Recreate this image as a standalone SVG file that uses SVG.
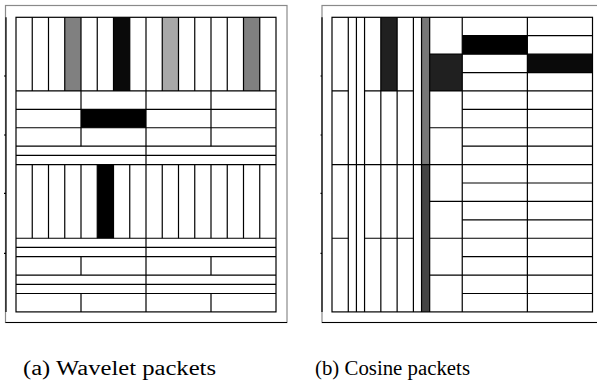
<svg xmlns="http://www.w3.org/2000/svg" width="597" height="391" viewBox="0 0 597 391">
<style>
.frame{fill:none;stroke:#8a8a8a;stroke-width:1.2}
.axis{fill:none;stroke:#000;stroke-width:1.2}
.grid{fill:none;stroke:#000;stroke-width:1.2}
.cap{font-family:"Liberation Serif","DejaVu Serif",serif;font-size:20.5px;fill:#000}
</style>
<rect width="597" height="391" fill="#fff"/>
<g id="panel-a">
  <rect class="frame" x="5.5" y="5.5" width="281.5" height="317"/>
  <path class="axis" d="M6 17.3V311.9M5.5 322.5H287M4 76H6M4 135H6M4 193.3H6M4 253.3H6"/>
  <g id="fills-a">
    <rect x="64.75" y="17.3" width="16.25" height="73.65" fill="#808080"/>
    <rect x="113.5" y="17.3" width="16.25" height="73.65" fill="#0a0a0a"/>
    <rect x="162.25" y="17.3" width="16.25" height="73.65" fill="#a8a8a8"/>
    <rect x="243.5" y="17.3" width="16.25" height="73.65" fill="#808080"/>
    <rect x="81" y="109.36" width="65" height="18.41" fill="#000"/>
    <rect x="97.25" y="164.6" width="16.25" height="73.65" fill="#000"/>
  </g>
  <g id="grid-a">
    <rect class="grid" x="16" y="17.3" width="260" height="294.6"/>
    <path class="grid" d="M16 90.95H276M16 109.36H276M16 127.77H276M16 146.18H276M16 155.39H276M16 164.6H276M16 238.25H276M16 247.46H276M16 256.67H276M16 275.08H276M16 284.29H276M16 293.5H276"/>
    <path class="grid" d="M32.25 17.3V90.95M48.5 17.3V90.95M64.75 17.3V90.95M81 17.3V90.95M97.25 17.3V90.95M113.5 17.3V90.95M129.75 17.3V90.95M146 17.3V90.95M162.25 17.3V90.95M178.5 17.3V90.95M194.75 17.3V90.95M211 17.3V90.95M227.25 17.3V90.95M243.5 17.3V90.95M259.75 17.3V90.95"/>
    <path class="grid" d="M32.25 164.6V238.25M48.5 164.6V238.25M64.75 164.6V238.25M81 164.6V238.25M97.25 164.6V238.25M113.5 164.6V238.25M129.75 164.6V238.25M146 164.6V238.25M162.25 164.6V238.25M178.5 164.6V238.25M194.75 164.6V238.25M211 164.6V238.25M227.25 164.6V238.25M243.5 164.6V238.25M259.75 164.6V238.25"/>
    <path class="grid" d="M81 90.95V146.18M211 90.95V146.18M81 256.67V275.08M211 256.67V275.08M81 293.5V311.9M211 293.5V311.9M146 90.95V164.6M146 238.25V311.9"/>
  </g>
</g>
<g id="panel-b">
  <rect class="frame" x="322" y="5.5" width="290" height="317"/>
  <path class="axis" d="M322 17.3V311.9M322 322.5H597M320.5 76H322M320.5 135H322M320.5 193.3H322M320.5 253.3H322"/>
  <g id="fills-b">
    <rect x="380.84" y="17.3" width="16.28" height="73.65" fill="#202020"/>
    <rect x="421.54" y="17.3" width="8.14" height="147.3" fill="#777777"/>
    <rect x="421.54" y="164.6" width="8.14" height="147.3" fill="#444444"/>
    <rect x="429.68" y="54.12" width="32.56" height="36.83" fill="#202020"/>
    <rect x="462.24" y="35.71" width="65.13" height="18.41" fill="#000"/>
    <rect x="527.37" y="54.12" width="65.13" height="18.42" fill="#0a0a0a"/>
  </g>
  <g id="grid-b">
    <rect class="grid" x="332" y="17.3" width="260.5" height="294.6"/>
    <path class="grid" d="M348.28 17.3V311.9M356.42 17.3V311.9M364.56 17.3V311.9M380.84 17.3V311.9M397.12 17.3V311.9M413.4 17.3V311.9M421.54 17.3V311.9M429.68 17.3V311.9M462.24 17.3V311.9M527.37 17.3V311.9"/>
    <path class="grid" d="M332 164.6H592.5M332 90.95H348.28M332 238.25H348.28M364.56 90.95H413.4M364.56 238.25H413.4"/>
    <path class="grid" d="M429.68 54.12H592.5M429.68 90.95H592.5M429.68 127.77H592.5M429.68 201.43H592.5M429.68 238.25H592.5M429.68 275.08H592.5"/>
    <path class="grid" d="M462.24 35.71H592.5M462.24 72.54H592.5M462.24 109.36H592.5M462.24 146.18H592.5M462.24 183.02H592.5M462.24 219.84H592.5M462.24 256.67H592.5M462.24 293.5H592.5"/>
  </g>
</g>
<g id="captions">
  <text class="cap" x="23" y="375" textLength="193" lengthAdjust="spacingAndGlyphs">(a) Wavelet packets</text>
  <text class="cap" x="315" y="375" textLength="155" lengthAdjust="spacingAndGlyphs">(b) Cosine packets</text>
</g>
</svg>
